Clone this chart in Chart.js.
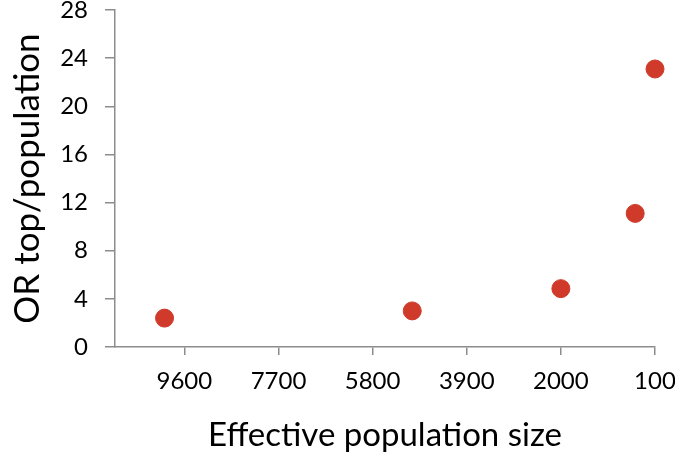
<!DOCTYPE html>
<html>
<head>
<meta charset="utf-8">
<script src="https://cdn.jsdelivr.net/npm/chart.js@4"></script>
<style>
  html, body { margin: 0; padding: 0; background: #fff; }
  #wrap { width: 675px; height: 452px; }
</style>
</head>
<body>
<div id="wrap"><canvas id="scatterChart" width="675" height="452"></canvas></div>
<script>
// values
const popSizes = [10000, 5000, 2000, 500, 100];
const oddsRatios = [2.4, 3.0, 4.85, 11.1, 23.1];
const xTicks = [9600, 7700, 5800, 3900, 2000, 100];
const yTicks = [0, 4, 8, 12, 16, 20, 24, 28];

const axisGray = '#8c8c8c';
const fontFamily = 'Lato, "Open Sans", sans-serif';

const ctx = document.getElementById('scatterChart').getContext('2d');
new Chart(ctx, {
    type: 'scatter',
    data: {
        datasets: [{
            label: 'OR',
            data: popSizes.map((x, i) => ({ x: x, y: oddsRatios[i] })),
            backgroundColor: '#cf3a2a',
            borderColor: '#cf3a2a',
            pointRadius: 9,
            pointHoverRadius: 9,
            clip: false
        }]
    },
    options: {
        responsive: false,
        animation: false,
        layout: { padding: { top: 6, right: 20, left: 0, bottom: 0 } },
        plugins: {
            legend: { display: false },
            tooltip: { enabled: false }
        },
        scales: {
            x: {
                type: 'linear',
                reverse: true,
                min: 100,
                max: 11000,
                afterBuildTicks: scale => {
                    scale.ticks = xTicks.map(v => ({ value: v }));
                },
                afterFit: scale => {
                    scale.height = 105;
                    scale.paddingLeft = 0;
                    scale.paddingRight = 0;
                },
                grid: {
                    drawOnChartArea: false,
                    drawTicks: true,
                    tickLength: 8,
                    color: axisGray,
                    lineWidth: 1.5
                },
                border: { color: axisGray, width: 1.5 },
                ticks: {
                    color: '#000',
                    font: { family: fontFamily, size: 24 },
                    padding: 12,
                    maxRotation: 0,
                    autoSkip: false,
                    callback: v => String(v)
                },
                title: {
                    display: true,
                    text: 'Effective population size',
                    color: '#000',
                    font: { family: fontFamily, size: 33, lineHeight: 1 },
                    padding: { top: 0, bottom: 0 }
                }
            },
            y: {
                min: 0,
                max: 28,
                afterBuildTicks: scale => {
                    scale.ticks = yTicks.map(v => ({ value: v }));
                },
                afterFit: scale => {
                    scale.width = 115;
                    scale.paddingTop = 0;
                    scale.paddingBottom = 0;
                },
                grid: {
                    drawOnChartArea: false,
                    drawTicks: true,
                    tickLength: 10,
                    color: axisGray,
                    lineWidth: 1.5
                },
                border: { color: axisGray, width: 1.5 },
                ticks: {
                    color: '#000',
                    font: { family: fontFamily, size: 24 },
                    padding: 17
                },
                title: {
                    display: true,
                    text: 'OR top/population',
                    color: '#000',
                    font: { family: fontFamily, size: 35, lineHeight: 1.2 },
                    padding: { top: 7, bottom: 0 }
                }
            }
        }
    }
});
</script>
</body>
</html>
